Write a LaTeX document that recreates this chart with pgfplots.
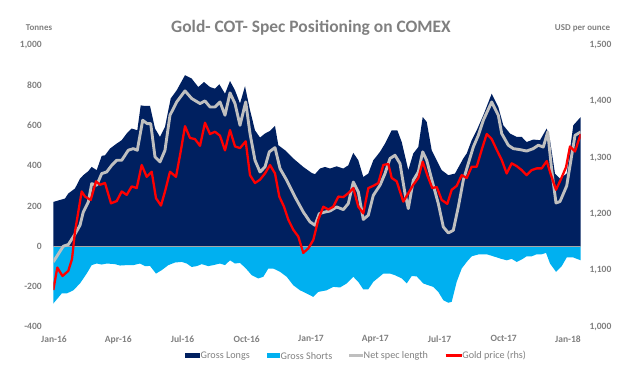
\documentclass[border=0pt]{standalone}
\usepackage{pgfplots}
\pgfplotsset{compat=1.18}
\usepackage{fontspec}
\setmainfont{Carlito}
\definecolor{navy}{HTML}{002060}
\definecolor{skyb}{HTML}{00B0F0}
\definecolor{netg}{HTML}{BFBFBF}
\definecolor{txtg}{HTML}{808080}
\begin{document}
\begin{tikzpicture}
\useasboundingbox (-53.3bp,-50.3bp) rectangle (586.7bp,326.7bp);
\begin{axis}[
  at={(0,0)}, anchor=south west,
  scale only axis, width=527.4bp, height=281.7bp,
  xmin=53.3, xmax=580.7, ymin=-400, ymax=1000,
  xtick={54,118.25,182.5,246.75,311,375.25,439.5,503.75,568},
  xticklabels={Jan-16,Apr-16,Jul-16,Oct-16,Jan-17,Apr-17,Jul-17,Oct-17,Jan-18},
  ytick={-400,-200,0,200,400,600,800,1000},
  axis line style={draw=none}, major tick length=0pt,
  tick label style={font=\fontsize{9.6}{11}\selectfont\bfseries, text=txtg},
  /pgf/number format/assume math mode=true,
  yticklabel style={anchor=east, xshift=-8bp},
  xticklabel style={yshift=-5.5bp},
]
\addplot[fill=navy, draw=none] coordinates {
(53.3,0) (53.3,220) (65,237) (68.3,262) (75,287) (80,336) (83.3,353) (88.3,373) (91.7,394) (96.7,378) (101.7,449) (105,452) (110,485) (116.7,510) (121.7,527) (126.7,560) (131.7,585) (137.3,576) (140.7,700) (145,697) (150,697) (155,585) (160,543) (165,593) (170.7,734) (176.7,775) (185,850) (191.7,833) (198.3,791) (204,816) (210,791) (215,783) (219.3,805) (225,758) (230,821) (235,775) (240,709) (245,795) (250,676) (255,576) (260,540) (265,560) (270,573) (275,598) (278.3,502) (285,477) (293.3,436) (303.3,394) (311.7,364) (315,358) (320,386) (325,394) (330,386) (336.7,397) (343.3,386) (348.3,402) (353.3,464) (358.3,427) (363.3,344) (368.3,361) (373.3,427) (380,469) (385,510) (391.7,576) (397.3,576) (401.7,518) (408.3,378) (413.3,461) (418.3,493) (422.7,642) (426.7,618) (431.7,477) (436.7,427) (441.7,378) (448.3,353) (455,361) (463.3,436) (466.7,461) (471.7,527) (476.7,576) (483.3,651) (491.7,758) (498.3,692) (503.3,601) (510,560) (516.7,543) (521.7,543) (526.7,518) (533.3,530) (540,527) (546.7,585) (550,527) (555,361) (560,336) (566.7,361) (573.3,601) (580.7,642) (580.7,0)
} \closedcycle;
\addplot[fill=skyb, draw=none] coordinates {
(53.3,0) (53.3,-285) (61.7,-235) (66.7,-235) (73.3,-219) (80,-185) (86.7,-136) (91.7,-94) (96.7,-86) (101.7,-91) (106.7,-86) (115,-89) (120,-96) (126.7,-94) (133.3,-94) (140,-86) (145,-99) (150,-98) (156,-136) (161.7,-119) (168.3,-94) (175,-81) (181.7,-78) (186.7,-86) (191.7,-103) (196.7,-99) (201.7,-89) (208.3,-99) (213.3,-94) (220,-86) (225,-94) (230,-70) (235,-86) (240,-83) (246,-111) (251.7,-144) (258.3,-160) (263.3,-152) (268.3,-111) (273.3,-111) (280,-127) (286.7,-152) (293.3,-194) (300,-219) (306.7,-235) (313.3,-252) (318.3,-227) (326.7,-219) (333.3,-202) (340,-205) (346.7,-185) (353.3,-152) (358.3,-177) (363.3,-215) (368.3,-214) (373.3,-177) (383.3,-136) (390,-136) (395,-144) (401.7,-160) (406.7,-185) (411.7,-148) (416.7,-150) (423.3,-185) (428.3,-194) (433.3,-202) (438.3,-227) (443.3,-268) (448.3,-281) (451.7,-276) (456.7,-177) (461.7,-111) (466.7,-78) (471.7,-50) (478.3,-41) (486.7,-40) (493.3,-50) (500,-61) (506.7,-70) (511.7,-63) (516.7,-78) (521.7,-66) (526.7,-50) (531.7,-50) (536.7,-40) (541.7,-40) (546,-33) (550,-86) (556,-127) (561.7,-99) (566.7,-56) (573.3,-56) (580.7,-70) (580.7,0)
} \closedcycle;
\draw[gray!70, line width=0.75bp] (axis cs:53.3,0) -- (axis cs:580.7,0);
\addplot[netg, line width=2.9bp, line join=round] coordinates {
(53.3,-78) (63.3,0) (68.3,8) (75,60) (80,104) (83.3,170) (88.3,220) (91.7,311) (96.7,303) (101.7,361) (106.7,369) (111.7,402) (116.7,427) (121.7,427) (128.3,477) (133.3,485) (137.3,477) (142.7,626) (147.3,609) (150.7,609) (155,444) (160,419) (165,477) (170,651) (176.7,717) (185,772) (191.7,734) (200,709) (205,722) (210,692) (215,692) (220,717) (225,651) (230,762) (235,709) (240,601) (245.7,717) (250,560) (255,427) (260,369) (265,394) (269.3,469) (275,490) (280,386) (286.7,328) (295,245) (303.3,170) (310,121) (315,104) (319.3,162) (325,170) (330,175) (336.7,195) (343.3,182) (348.3,212) (353.3,319) (358.3,270) (363.3,133) (368.3,154) (373.3,253) (380,303) (385,361) (390,436) (395,452) (400,411) (405,262) (408.3,187) (413.3,328) (418.3,369) (422.7,469) (426.7,427) (433.3,303) (438.3,212) (443.3,96) (448.3,66) (453.3,79) (458.3,195) (463.3,328) (468.3,411) (473.3,493) (478.3,551) (483.3,626) (491.7,717) (498.3,651) (501.7,560) (508.3,502) (513.3,485) (520,480) (526.7,473) (533.3,485) (538.3,502) (543.3,493) (547.7,568) (551.7,378) (556,215) (560,222) (566.7,300) (570,400) (575,551) (580.7,568)
};
\end{axis}
\begin{axis}[
  at={(0,0)}, anchor=south west,
  scale only axis, width=527.4bp, height=281.7bp,
  xmin=53.3, xmax=580.7, ymin=1000, ymax=1500,
  axis y line*=right, axis x line=none,
  ytick={1000,1100,1200,1300,1400,1500},
  axis line style={draw=none}, major tick length=0pt,
  tick label style={font=\fontsize{9.6}{11}\selectfont\bfseries, text=txtg},
  /pgf/number format/assume math mode=true,
  yticklabel style={anchor=west, xshift=5.3bp},
]
\addplot[red, line width=2.3bp, line join=round] coordinates {
(53.3,1065) (57.3,1105) (62.5,1090) (68.3,1099) (72,1120) (75,1169) (78.3,1204) (81.7,1240) (85,1231) (90.7,1225) (96,1258) (100,1252) (105,1255) (111,1219) (116.7,1223) (121.7,1240) (126.7,1234) (131.7,1249) (136.7,1246) (141.7,1287) (146.7,1266) (151.7,1275) (156,1228) (161,1215) (165,1240) (170,1275) (176,1266) (180.7,1311) (185,1356) (190,1335) (195,1333) (200,1321) (205,1362) (210,1342) (215,1346) (220,1339) (225,1313) (230,1349) (235,1320) (240,1317) (245.7,1329) (250,1269) (255,1255) (260,1261) (265,1272) (270,1287) (275,1272) (279.3,1231) (284,1213) (288.3,1190) (293.3,1172) (298.3,1160) (303.3,1131) (308.3,1139) (313.3,1154) (318.3,1190) (323.3,1213) (328.3,1208) (333.3,1213) (338.3,1231) (343.3,1230) (348.3,1237) (353.3,1246) (358.3,1213) (363.3,1201) (368.3,1246) (373.3,1250) (378.3,1255) (383.3,1287) (388.3,1289) (391.7,1264) (396.7,1258) (403.3,1222) (408.3,1237) (413.3,1252) (418.3,1264) (422.7,1293) (427.3,1269) (432.3,1246) (436.7,1248) (441.7,1225) (447.3,1218) (451.7,1243) (456.7,1250) (461.7,1269) (466.7,1264) (471.7,1284) (476.7,1284) (481.7,1314) (486.7,1342) (491.7,1333) (496.7,1314) (501.7,1296) (506.7,1272) (511.7,1290) (516.7,1285) (521.7,1278) (526.7,1269) (531.7,1278) (536.7,1281) (541.7,1281) (546.7,1294) (551,1269) (556,1243) (560.7,1261) (566,1283) (570,1320) (575,1311) (580.7,1342)
};
\end{axis}
% titles
\node[text=txtg, font=\fontsize{17.5}{20}\selectfont\bfseries] at (257.7bp,298.7bp) {Gold- COT- Spec Positioning on COMEX};
\node[text=txtg, font=\fontsize{9}{10}\selectfont\bfseries] at (-14.3bp,298.7bp) {Tonnes};
\node[text=txtg, font=\fontsize{9}{10}\selectfont\bfseries] at (529.2bp,298.7bp) {USD per ounce};
% legend
\begin{scope}[every node/.style={text=txtg, font=\fontsize{10.2}{12}\selectfont, anchor=west, inner sep=0.5bp}]
\fill[navy] (131.7bp,-31.5bp) rectangle (146.7bp,-26.5bp);
\node at (146.7bp,-29bp) {Gross Longs};
\fill[skyb] (213.4bp,-31.5bp) rectangle (226.7bp,-26.5bp);
\node at (226.7bp,-29bp) {Gross Shorts};
\draw[netg, line width=2.8bp] (295.7bp,-29bp) -- (309.7bp,-29bp);
\node at (309.7bp,-29bp) {Net spec length};
\draw[red, line width=2.5bp] (392.4bp,-29bp) -- (408.4bp,-29bp);
\node at (408.4bp,-29bp) {Gold price (rhs)};
\end{scope}
\end{tikzpicture}
\end{document}
